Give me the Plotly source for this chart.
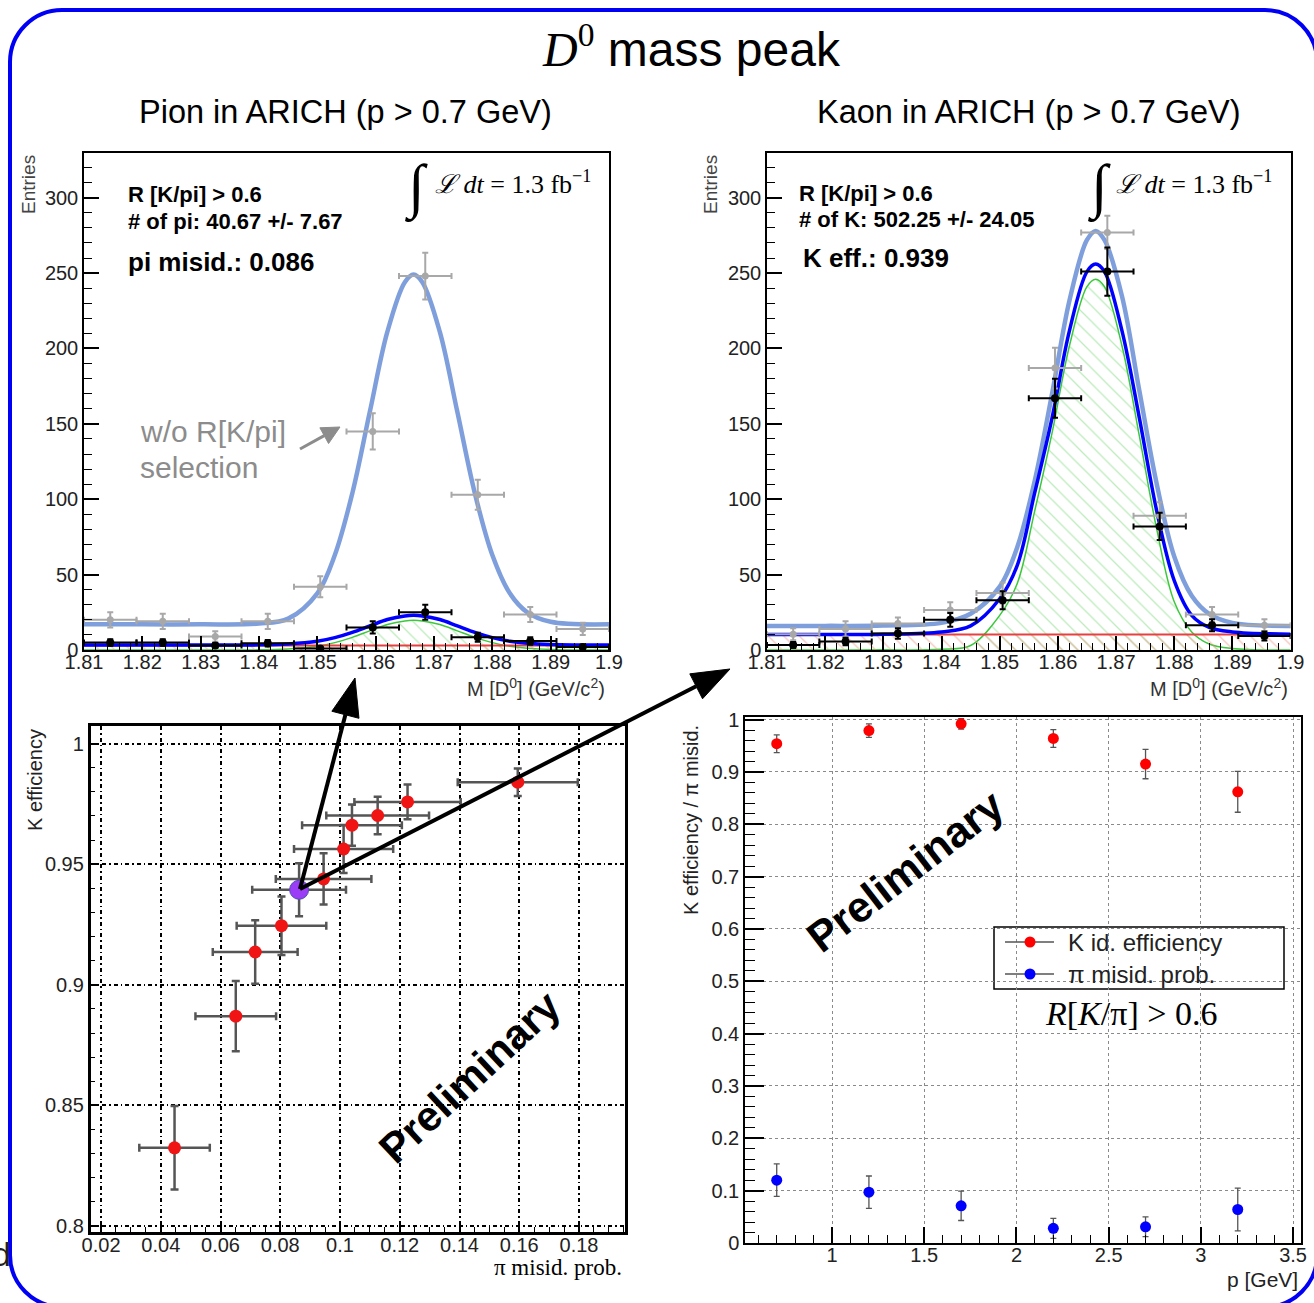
import plotly.graph_objects as go

W, H = 1314, 1303
SANS = "Liberation Sans, Arial, Helvetica, sans-serif"
SERIF = "Liberation Serif, Times New Roman, serif"

# ---------------- data: D0 mass histograms ----------------
mass_bin_centres = [1.8145, 1.8235, 1.8325, 1.8415, 1.8505, 1.8595, 1.8685, 1.8775, 1.8865, 1.8955]
mass_bin_width = 0.009

pion_all_counts = [20, 19, 9, 19, 42, 145, 248, 103, 23.5, 14]
pion_all_err = [5, 5, 3.5, 5, 7, 12, 15.5, 10, 5, 4]
pion_sel_counts = [5, 5, 3, 4.5, 1, 15, 25, 8.5, 6, 2]
pion_sel_err = [2.2, 2.2, 1.7, 2.1, 1, 4, 5, 3, 2.5, 1.4]

kaon_all_counts = [10.5, 14, 17.5, 26.6, 37.8, 187, 277, 89, 23.5, 16.4]
kaon_all_err = [4, 5, 4, 5, 7, 13.5, 11, 9, 5, 4]
kaon_sel_counts = [3.3, 5.7, 11, 20, 33, 167, 251, 82, 16.4, 9.3]
kaon_sel_err = [2, 2.5, 3.5, 4.5, 6, 13, 16, 9, 4, 3]

# fit curves
fit_mass = [1.81, 1.82, 1.83, 1.84, 1.845, 1.85, 1.853, 1.856, 1.859, 1.862, 1.865,
            1.8665, 1.868, 1.871, 1.874, 1.877, 1.88, 1.883, 1.886, 1.89, 1.9]
pion_fit_all = [17, 17, 17, 17.5, 20.8, 37.6, 63, 104, 158, 211, 244, 249, 244, 211, 158, 104, 63, 37.6, 25, 18.7, 17]
pion_fit_sel = [3.3, 3.3, 3.3, 3.4, 4.0, 5.8, 8.2, 11.7, 16, 20.2, 22.6, 23, 22.6, 20.2, 16, 11.7, 8.2, 5.8, 4.5, 3.7, 3.3]
pion_fit_sig = [0, 0, 0, 0.1, 0.7, 2.5, 4.9, 8.4, 12.7, 16.9, 19.3, 19.7, 19.3, 16.9, 12.7, 8.4, 4.9, 2.5, 1.2, 0.4, 0]
kaon_fit_all = [16, 16, 16.2, 18, 24, 42, 68, 112, 170, 232, 272, 278, 272, 235, 172, 110, 62, 36, 24, 18, 16]
kaon_fit_sel = [10.3, 10.3, 10.5, 12, 16, 34, 56, 104, 154, 212, 251, 256, 251, 212, 154, 92, 46, 23, 15, 12, 10.5]
kaon_fit_sig = [0, 0, 0.1, 0.5, 3, 23, 44, 92, 144, 202, 241, 246, 241, 202, 142, 80, 32, 12, 4, 1, 0]
bkg_mass = [1.81, 1.9]
pion_fit_bkg = [3.0, 3.0]
kaon_fit_bkg = [10.3, 10.3]

mass_ticks = [1.81, 1.82, 1.83, 1.84, 1.85, 1.86, 1.87, 1.88, 1.89, 1.9]
mass_tick_labels = ["1.81", "1.82", "1.83", "1.84", "1.85", "1.86", "1.87", "1.88", "1.89", "1.9"]
entries_ticks = [0, 50, 100, 150, 200, 250, 300]
entries_tick_labels = ["0", "50", "100", "150", "200", "250", "300"]

# ---------------- data: K efficiency vs pi misid ----------------
pi_misid = [0.0446, 0.0651, 0.0716, 0.0804, 0.0863, 0.0945, 0.1012, 0.104, 0.1126, 0.1226, 0.1595]
pi_misid_err = [0.0118, 0.0135, 0.0142, 0.015, 0.0157, 0.016, 0.0166, 0.0167, 0.0172, 0.0178, 0.0201]
k_eff = [0.8324, 0.887, 0.9136, 0.9245, 0.9394, 0.9439, 0.9563, 0.9662, 0.9702, 0.9758, 0.984]
k_eff_err = [0.0173, 0.0146, 0.0132, 0.0121, 0.011, 0.0106, 0.01, 0.0086, 0.0078, 0.0072, 0.0057]
selected_point = 4  # R[K/pi] > 0.6 working point (0.086, 0.939)

misid_ticks = [0.02, 0.04, 0.06, 0.08, 0.1, 0.12, 0.14, 0.16, 0.18]
misid_tick_labels = ["0.02", "0.04", "0.06", "0.08", "0.1", "0.12", "0.14", "0.16", "0.18"]
eff_ticks = [0.8, 0.85, 0.9, 0.95, 1.0]
eff_tick_labels = ["0.8", "0.85", "0.9", "0.95", "1"]

# ---------------- data: efficiency vs momentum ----------------
p_bins = [0.7, 1.2, 1.7, 2.2, 2.7, 3.2]
k_id_eff = [0.954, 0.979, 0.992, 0.964, 0.915, 0.862]
k_id_eff_err = [0.017, 0.013, 0.01, 0.017, 0.028, 0.039]
pi_misid_prob = [0.12, 0.097, 0.071, 0.028, 0.031, 0.064]
pi_misid_prob_err = [0.031, 0.031, 0.028, 0.019, 0.019, 0.041]

p_ticks = [1, 1.5, 2, 2.5, 3, 3.5]
p_tick_labels = ["1", "1.5", "2", "2.5", "3", "3.5"]
frac_ticks = [0, 0.1, 0.2, 0.3, 0.4, 0.5, 0.6, 0.7, 0.8, 0.9, 1.0]
frac_tick_labels = ["0", "0.1", "0.2", "0.3", "0.4", "0.5", "0.6", "0.7", "0.8", "0.9", "1"]

# ---------------- helpers ----------------
def px(x):
    return x / W


def py(y):
    return 1 - y / H


GREEN = "#3cc83c"
RED = "#e84040"
LIGHTBLUE = "#7f9fdc"
DARKBLUE = "#0000ff"

fig = go.Figure()


def mass_panel(xa, ya, fit_all, fit_sel, fit_sig, fit_bkg, all_c, all_e, sel_c, sel_e):
    fig.add_trace(go.Scatter(x=fit_mass, y=fit_sig, mode="lines", xaxis=xa, yaxis=ya,
                             line=dict(color=GREEN, width=1.5, shape="spline"), fill="tozeroy",
                             fillcolor="rgba(0,0,0,0)",
                             fillpattern=dict(shape="\\", fgcolor="#7ad87a", bgcolor="rgba(0,0,0,0)",
                                              size=11, solidity=0.12),
                             showlegend=False, hoverinfo="skip"))
    fig.add_trace(go.Scatter(x=bkg_mass, y=fit_bkg, mode="lines", xaxis=xa, yaxis=ya,
                             line=dict(color=RED, width=2), fill="tozeroy", fillcolor="rgba(0,0,0,0)",
                             fillpattern=dict(shape="\\", fgcolor="#e88a7a", bgcolor="rgba(0,0,0,0)",
                                              size=11, solidity=0.12),
                             showlegend=False, hoverinfo="skip"))
    fig.add_trace(go.Scatter(x=fit_mass, y=fit_all, mode="lines", xaxis=xa, yaxis=ya,
                             line=dict(color=LIGHTBLUE, width=4.5, shape="spline"),
                             showlegend=False))
    fig.add_trace(go.Scatter(x=fit_mass, y=fit_sel, mode="lines", xaxis=xa, yaxis=ya,
                             line=dict(color=DARKBLUE, width=3.5, shape="spline"),
                             showlegend=False))
    half = [mass_bin_width / 2] * len(mass_bin_centres)
    fig.add_trace(go.Scatter(x=mass_bin_centres, y=all_c, mode="markers", xaxis=xa, yaxis=ya,
                             marker=dict(color="#a8a8a8", size=7),
                             error_x=dict(type="data", array=half, color="#a8a8a8", thickness=2, width=3),
                             error_y=dict(type="data", array=all_e, color="#a8a8a8", thickness=2, width=3),
                             showlegend=False))
    fig.add_trace(go.Scatter(x=mass_bin_centres, y=sel_c, mode="markers", xaxis=xa, yaxis=ya,
                             marker=dict(color="black", size=8),
                             error_x=dict(type="data", array=half, color="black", thickness=2, width=3),
                             error_y=dict(type="data", array=sel_e, color="black", thickness=2, width=3),
                             showlegend=False))


mass_panel("x", "y", pion_fit_all, pion_fit_sel, pion_fit_sig, pion_fit_bkg,
           pion_all_counts, pion_all_err, pion_sel_counts, pion_sel_err)
mass_panel("x2", "y2", kaon_fit_all, kaon_fit_sel, kaon_fit_sig, kaon_fit_bkg,
           kaon_all_counts, kaon_all_err, kaon_sel_counts, kaon_sel_err)

# K efficiency vs pi misid
fig.add_trace(go.Scatter(x=pi_misid, y=k_eff, mode="markers", xaxis="x3", yaxis="y3",
                         marker=dict(color="#f01414", size=13),
                         error_x=dict(type="data", array=pi_misid_err, color="#555555", thickness=2.5, width=4),
                         error_y=dict(type="data", array=k_eff_err, color="#555555", thickness=2.5, width=4),
                         showlegend=False))
fig.add_trace(go.Scatter(x=[pi_misid[selected_point]], y=[k_eff[selected_point]], mode="markers",
                         xaxis="x3", yaxis="y3",
                         marker=dict(color="#9b3cf6", size=19, line=dict(color="#5050b0", width=1)),
                         showlegend=False))

# efficiency vs momentum
fig.add_trace(go.Scatter(x=p_bins, y=k_id_eff, mode="markers", xaxis="x4", yaxis="y4",
                         name="K id. efficiency",
                         marker=dict(color="#ff0000", size=11),
                         error_y=dict(type="data", array=k_id_eff_err, color="#555555", thickness=1.3, width=3),
                         showlegend=False))
fig.add_trace(go.Scatter(x=p_bins, y=pi_misid_prob, mode="markers", xaxis="x4", yaxis="y4",
                         name="π misid. prob.",
                         marker=dict(color="#0000ff", size=11),
                         error_y=dict(type="data", array=pi_misid_prob_err, color="#555555", thickness=1.3, width=3),
                         showlegend=False))

# ---------------- axes ----------------
tickfont = dict(family=SANS, size=20, color="#222")


def ax(domain, rng, tv, tt, minor_dtick, ticklen, minorlen, lw=1.5, **kw):
    d = dict(domain=domain, range=rng, tickmode="array", tickvals=tv, ticktext=tt,
             showline=True, mirror=True, linecolor="black", linewidth=lw,
             ticks="inside", ticklen=ticklen, tickwidth=1.5, tickcolor="black",
             minor=dict(ticks="inside", ticklen=minorlen, dtick=minor_dtick, tick0=0,
                        tickcolor="black", tickwidth=1.2, showgrid=False),
             showgrid=False, zeroline=False, tickfont=tickfont, fixedrange=True,
             automargin=False)
    d.update(kw)
    return d


top_y_dom = [py(650), py(152.5)]
fig.update_layout(
    xaxis=ax([px(84), px(609)], [1.81, 1.9], mass_ticks, mass_tick_labels, 0.002, 14, 7, anchor="y"),
    yaxis=ax(top_y_dom, [0, 330], entries_ticks, entries_tick_labels, 10, 15, 8, anchor="x"),
    xaxis2=ax([px(767), px(1290.6)], [1.81, 1.9], mass_ticks, mass_tick_labels, 0.002, 14, 7, anchor="y2"),
    yaxis2=ax(top_y_dom, [0, 330], entries_ticks, entries_tick_labels, 10, 15, 8, anchor="x2"),
    xaxis3=ax([px(90.6), px(625)], [0.0165, 0.1954], misid_ticks, misid_tick_labels, 0.005, 9, 5,
              lw=2.5, anchor="y3", showgrid=True, gridcolor="black", gridwidth=2,
              griddash="4px,3px,1.5px,3px"),
    yaxis3=ax([py(1232), py(726)], [0.7975, 1.0073], eff_ticks, eff_tick_labels, 0.01, 9, 5,
              lw=2.5, anchor="x3", showgrid=True, gridcolor="black", gridwidth=2,
              griddash="4px,3px,1.5px,3px"),
    xaxis4=ax([px(745), px(1301)], [0.528, 3.543], p_ticks, p_tick_labels, 0.1, 16, 8,
              anchor="y4", showgrid=True, gridcolor="#8a8a8a", gridwidth=1, griddash="dot"),
    yaxis4=ax([py(1243), py(717)], [0, 1.005], frac_ticks, frac_tick_labels, 0.02, 19, 10,
              anchor="x4", showgrid=True, gridcolor="#8a8a8a", gridwidth=1, griddash="dot"),
)
# pull x tick labels closer to the axis line (ROOT style)
try:
    fig.update_xaxes(ticklabelstandoff=-7)
except ValueError:
    pass

# ---------------- annotations ----------------
ann = []


def txt(x, y, text, size, xanchor="left", yanchor="middle", color="black", family=SANS, angle=0):
    ann.append(dict(xref="paper", yref="paper", x=px(x), y=py(y), text=text, showarrow=False,
                    xanchor=xanchor, yanchor=yanchor, textangle=angle,
                    font=dict(family=family, size=size, color=color)))


txt(691, 46, '<span style="font-family:Liberation Serif"><i>D</i><sup>0</sup></span> mass peak', 48,
    xanchor="center")
txt(345, 112, "Pion in ARICH (p &gt; 0.7 GeV)", 32.5, xanchor="center")
txt(1029, 112, "Kaon in ARICH (p &gt; 0.7 GeV)", 32.5, xanchor="center")

for xc in (28, 710):
    txt(xc, 185, "Entries", 19, xanchor="center", color="#444", angle=-90)
txt(607, 687, "M [D<sup>0</sup>] (GeV/c<sup>2</sup>)", 20, xanchor="right", color="#333")
txt(1290, 687, "M [D<sup>0</sup>] (GeV/c<sup>2</sup>)", 20, xanchor="right", color="#333")

txt(126, 195, "<b>R [K/pi] &gt; 0.6</b>", 22)
txt(126, 222, "<b># of pi: 40.67 +/- 7.67</b>", 22)
txt(126, 262, "<b>pi misid.: 0.086</b>", 26)
txt(797, 193, "<b>R [K/pi] &gt; 0.6</b>", 22)
txt(797, 219, "<b># of K: 502.25 +/- 24.05</b>", 22)
txt(801, 258, "<b>K eff.: 0.939</b>", 26)

for xi, xt in ((416, 433), (1099, 1114)):
    txt(xi, 188, "∫", 60, xanchor="center", family=SERIF)
    txt(xt, 183, "<i>ℒ</i> <i>dt</i> = 1.3 fb<sup>−1</sup>", 26, family=SERIF)

txt(138, 431, "w/o R[K/pi]", 30, color="#8c8c8c")
txt(138, 467, "selection", 30, color="#8c8c8c")

txt(35, 780, "K efficiency", 20, xanchor="center", color="#222", angle=-90)
txt(624, 1267, "π misid. prob.", 23, xanchor="right", family=SERIF)
txt(469, 1077, "<b>Preliminary</b>", 42, xanchor="center", angle=-43)

txt(691, 820, "K efficiency / π misid.", 20, xanchor="center", color="#222", angle=-90)
txt(1300, 1279, "p [GeV]", 21, xanchor="right", color="#222")
txt(905, 871, "<b>Preliminary</b>", 43, xanchor="center", angle=-37.6)

txt(1066, 942, "K id. efficiency", 24, color="#222")
txt(1066, 974, "π misid. prob.", 24, color="#222")
txt(1131, 1013, "<i>R</i>[<i>K</i>/π] &gt; 0.6", 34, xanchor="center", family=SERIF)

txt(13, 1254, "d", 34, xanchor="right", color="#222")

# ---------------- shapes ----------------
shapes = []


def pt(x, y):
    return f"{px(x):.5f},{py(y):.5f}"


L, T, R, B, r = 10, 10, 1317, 1307, 52
k = 0.5523 * r
path = (f"M{pt(L, T + r)} L{pt(L, B - r)} C{pt(L, B - r + k)} {pt(L + r - k, B)} {pt(L + r, B)} "
        f"L{pt(R - r, B)} C{pt(R - r + k, B)} {pt(R, B - r + k)} {pt(R, B - r)} "
        f"L{pt(R, T + r)} C{pt(R, T + r - k)} {pt(R - r + k, T)} {pt(R - r, T)} "
        f"L{pt(L + r, T)} C{pt(L + r - k, T)} {pt(L, T + r - k)} {pt(L, T + r)} Z")
shapes.append(dict(type="path", xref="paper", yref="paper", path=path,
                   line=dict(color="#0000f5", width=4), fillcolor="rgba(0,0,0,0)", layer="above"))


def arrow(tail, tip, color, width, hl, hw):
    (x0, y0), (x1, y1) = tail, tip
    dx, dy = x1 - x0, y1 - y0
    n = (dx * dx + dy * dy) ** 0.5
    ux, uy = dx / n, dy / n
    bx, by = x1 - hl * ux, y1 - hl * uy
    nx, ny = -uy, ux
    shapes.append(dict(type="line", xref="paper", yref="paper", x0=px(x0), y0=py(y0), x1=px(bx), y1=py(by),
                       line=dict(color=color, width=width), layer="above"))
    p = f"M{pt(x1, y1)} L{pt(bx + hw * nx, by + hw * ny)} L{pt(bx - hw * nx, by - hw * ny)} Z"
    shapes.append(dict(type="path", xref="paper", yref="paper", path=p, line=dict(color=color, width=1),
                       fillcolor=color, layer="above"))


arrow((300, 889), (355, 678), "black", 4, 38, 14)
arrow((300, 889), (730, 669), "black", 4, 38, 14)
arrow((300, 449), (340, 427), "#8c8c8c", 3, 18, 9)

shapes.append(dict(type="rect", xref="paper", yref="paper", x0=px(994), x1=px(1284), y0=py(989), y1=py(927),
                   line=dict(color="black", width=1.5), fillcolor="white", layer="below"))
for yy, col in ((942, "#ff0000"), (974, "#0000ff")):
    shapes.append(dict(type="line", xref="paper", yref="paper", x0=px(1005), x1=px(1054), y0=py(yy), y1=py(yy),
                       line=dict(color="#555", width=1.3), layer="above"))
    shapes.append(dict(type="circle", xref="paper", yref="paper", x0=px(1024.5), x1=px(1035.5),
                       y0=py(yy + 5.5), y1=py(yy - 5.5), line=dict(color=col, width=0), fillcolor=col,
                       layer="above"))

fig.update_layout(
    width=W, height=H, autosize=False,
    margin=dict(l=0, r=0, t=0, b=0, pad=0, autoexpand=False),
    paper_bgcolor="white", plot_bgcolor="white",
    annotations=ann, shapes=shapes, showlegend=False,
    font=dict(family=SANS),
)

fig.write_html("out.html", config={"displayModeBar": False},
               post_script="document.body.style.margin='0px';document.body.style.overflow='hidden';")
